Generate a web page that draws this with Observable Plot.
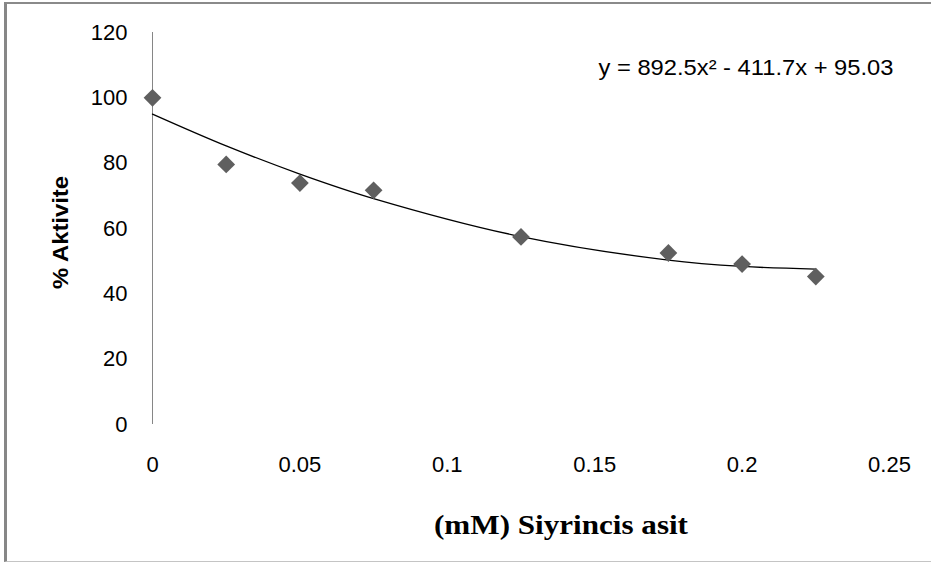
<!DOCTYPE html>
<html>
<head>
<meta charset="utf-8">
<script src="https://cdn.jsdelivr.net/npm/d3@7"></script>
<script src="https://cdn.jsdelivr.net/npm/@observablehq/plot@0.6"></script>
<style>
  html, body { margin: 0; padding: 0; background: #fff; }
  #wrap { position: relative; width: 931px; height: 565px; overflow: hidden; }
  #chart { position: absolute; left: 0; top: 0; }
  #frame { position: absolute; left: 4px; top: 2px; width: 927px; height: 560px;
           border-left: 3px solid #878787; border-top: 2px solid #8a8a8a; border-bottom: 1px solid #c4c4c4;
           box-sizing: border-box; pointer-events: none; }
</style>
</head>
<body>
<div id="wrap"><div id="chart"></div><div id="frame"></div></div>
<script>
// Data
const concentrations = [0, 0.025, 0.05, 0.075, 0.125, 0.175, 0.2, 0.225];
const activity = [100, 79.6, 73.9, 71.7, 57.4, 52.5, 49.1, 45.3];
const xTicks = [0, 0.05, 0.1, 0.15, 0.2, 0.25];
const xTickLabels = ["0", "0.05", "0.1", "0.15", "0.2", "0.25"];
const yTicks = [0, 20, 40, 60, 80, 100, 120];
const trendCoefficients = [892.5, -411.7, 95.03]; // shown trendline: a x^2 + b x + c
const equationLabel = ["y = 892.5x\u00B2 - 411.7x + 95.03"];
const xTitle = ["(mM) Siyrincis asit"];
const yTitle = ["% Aktivite"];

const points = concentrations.map((x, i) => ({x, y: activity[i]}));
const [a, b, c] = trendCoefficients;
const trend = concentrations.map(x => ({x, y: a * x * x + b * x + c}));

const chart = Plot.plot({
  width: 931,
  height: 565,
  marginLeft: 152,
  marginRight: 42,
  marginTop: 32,
  marginBottom: 141,
  style: {fontFamily: "'Liberation Sans', Arial, sans-serif", fontSize: "22px", color: "#000", background: "transparent"},
  x: {domain: [0, 0.25]},
  y: {domain: [0, 120]},
  marks: [
    Plot.ruleX([0], {stroke: "#868686", strokeWidth: 1}),
    Plot.axisY({ticks: yTicks, tickSize: 0, tickPadding: 25, label: null, fontSize: 22}),
    Plot.axisX({ticks: xTicks, tickSize: 0, tickPadding: 32, label: null, fontSize: 22,
                tickFormat: d => xTickLabels[xTicks.indexOf(d)]}),
    Plot.line(trend, {x: "x", y: "y", curve: "catmull-rom", stroke: "#000", strokeWidth: 1.3}),
    Plot.dot(points, {x: "x", y: "y", symbol: "diamond2", r: 8, fill: "#5f5f5f", stroke: "none"}),
    Plot.text(equationLabel, {frameAnchor: "top-right", textAnchor: "end", lineAnchor: "middle",
                              dx: 4, dy: 35, fontSize: 22, fill: "#000"}),
    Plot.text(yTitle, {frameAnchor: "left", rotate: -90, lineAnchor: "middle", textAnchor: "middle",
                       dx: -92, dy: 4, fontSize: 22, fontWeight: "bold", fill: "#000"}),
    Plot.text(xTitle, {frameAnchor: "bottom", lineAnchor: "middle", textAnchor: "middle",
                       dx: 40, dy: 101, fontSize: 27, fontWeight: "bold",
                       fontFamily: "'Liberation Serif', 'Times New Roman', serif", fill: "#000"})
  ]
});
document.getElementById("chart").appendChild(chart);

// stretch labels to the widths seen in the reference
const stretch = {[xTitle[0]]: 254, [equationLabel[0]]: 295, [yTitle[0]]: 113};
d3.select(chart).selectAll("text").each(function() {
  const w = stretch[this.textContent];
  if (w) d3.select(this).attr("textLength", w).attr("lengthAdjust", "spacingAndGlyphs");
});
</script>
</body>
</html>
